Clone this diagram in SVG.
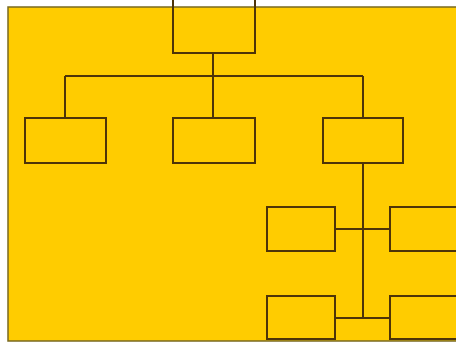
<svg xmlns="http://www.w3.org/2000/svg" width="456" height="345" viewBox="0 0 456 345">
<style>
.box{fill:#FFCC00;stroke:#4e3408;stroke-width:2}
.ln{fill:none;stroke:#4e3408;stroke-width:2}
</style>
<rect x="0" y="0" width="456" height="345" fill="#ffffff"/>
<rect x="8" y="7" width="450" height="334" fill="#FFCC00" stroke="#7a6a20" stroke-width="1.5"/>
<g id="connectors">
<path class="ln" d="M213 53V76M65 76H363M65 76V118M213 76V118M363 76V118M363 163V318M335 229H390M335 318H390"/>
</g>
<g id="n-top"><path class="ln" d="M173 -2V53H255V-2"/></g>
<g id="n-a"><rect class="box" x="25" y="118" width="81" height="45"/></g>
<g id="n-b"><rect class="box" x="173" y="118" width="82" height="45"/></g>
<g id="n-c"><rect class="box" x="323" y="118" width="80" height="45"/></g>
<g id="n-d"><rect class="box" x="267" y="207" width="68" height="44"/></g>
<g id="n-e"><rect class="box" x="390" y="207" width="70" height="44"/></g>
<g id="n-f"><rect class="box" x="267" y="296" width="68" height="43"/></g>
<g id="n-g"><rect class="box" x="390" y="296" width="70" height="43"/></g>
</svg>
